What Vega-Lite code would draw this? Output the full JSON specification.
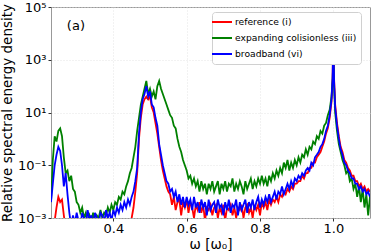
{
"$schema": "https://vega.github.io/schema/vega-lite/v6.json",
"width": 319, "height": 211,
"autosize": {"type": "none"},
"padding": {"left": 51, "top": 7, "right": 4, "bottom": 34},
"background": "white",
"config": {
  "font": "DejaVu Sans",
  "view": {"stroke": "#999999", "strokeWidth": 1},
  "axis": {"labelFont": "DejaVu Sans", "titleFont": "DejaVu Sans", "labelColor": "black", "titleColor": "black", "titleFontWeight": "normal", "gridColor": "#dddddd", "gridDash": [1, 2], "gridWidth": 0.8, "domain": false, "tickColor": "#333333", "tickSize": 3, "labelFontSize": 13, "titleFontSize": 13.5},
  "legend": {"orient": "none", "legendX": 161, "legendY": 5, "fillColor": "white", "strokeColor": "#d0d0d0", "cornerRadius": 3, "padding": 4, "labelFont": "DejaVu Sans", "labelFontSize": 9.2, "labelColor": "black", "symbolType": "M-2,0H2", "symbolSize": 100, "symbolStrokeWidth": 2, "labelOffset": 7, "rowPadding": 4, "title": null}
},
"datasets": {
"ref": [{"x":0.23,"y":2.5e-4},{"x":0.235,"y":4e-4},{"x":0.24,"y":7.9e-4},{"x":0.245,"y":2.5e-3},{"x":0.25,"y":6.3e-3},{"x":0.255,"y":4e-3},{"x":0.26,"y":5e-3},{"x":0.265,"y":1.26e-3},{"x":0.27,"y":4e-4},{"x":0.3,"y":3.16e-4},{"x":0.35,"y":3.16e-4},{"x":0.4,"y":3.16e-4},{"x":0.445,"y":3.16e-4},{"x":0.45,"y":1e-3},{"x":0.455,"y":2.5e-3},{"x":0.46,"y":1e-2},{"x":0.465,"y":5e-2},{"x":0.47,"y":1},{"x":0.475,"y":6.3},{"x":0.48,"y":20},{"x":0.485,"y":31.6},{"x":0.49,"y":40},{"x":0.495,"y":31.6},{"x":0.5,"y":40},{"x":0.505,"y":15.8},{"x":0.51,"y":10},{"x":0.515,"y":4},{"x":0.52,"y":1.58},{"x":0.525,"y":0.5},{"x":0.53,"y":0.158},{"x":0.535,"y":6.3e-2},{"x":0.54,"y":3.16e-2},{"x":0.545,"y":1.58e-2},{"x":0.55,"y":1e-2},{"x":0.555,"y":7.9e-3},{"x":0.56,"y":3.16e-3},{"x":0.565,"y":6.3e-3},{"x":0.57,"y":2e-3},{"x":0.575,"y":4e-3},{"x":0.58,"y":5e-3},{"x":0.585,"y":1.26e-3},{"x":0.59,"y":4e-3},{"x":0.595,"y":2.5e-3},{"x":0.6,"y":5e-3},{"x":0.605,"y":1.58e-3},{"x":0.61,"y":4e-3},{"x":0.615,"y":2.5e-3},{"x":0.62,"y":1e-3},{"x":0.625,"y":3.16e-3},{"x":0.63,"y":2e-3},{"x":0.635,"y":4e-3},{"x":0.64,"y":1.58e-3},{"x":0.645,"y":3.16e-3},{"x":0.65,"y":7.9e-4},{"x":0.655,"y":2.5e-3},{"x":0.66,"y":2e-3},{"x":0.665,"y":3.16e-3},{"x":0.67,"y":1.26e-3},{"x":0.675,"y":2.5e-3},{"x":0.68,"y":3.16e-3},{"x":0.685,"y":1e-3},{"x":0.69,"y":2.5e-3},{"x":0.695,"y":1.58e-3},{"x":0.7,"y":3.16e-3},{"x":0.705,"y":7.9e-4},{"x":0.71,"y":2.5e-3},{"x":0.715,"y":2e-3},{"x":0.72,"y":3.16e-3},{"x":0.725,"y":1.26e-3},{"x":0.73,"y":2.5e-3},{"x":0.735,"y":1e-3},{"x":0.74,"y":2.5e-3},{"x":0.745,"y":2e-3},{"x":0.75,"y":3.16e-3},{"x":0.755,"y":1e-3},{"x":0.76,"y":2.5e-3},{"x":0.765,"y":3.16e-3},{"x":0.77,"y":1.58e-3},{"x":0.775,"y":2.5e-3},{"x":0.78,"y":1e-3},{"x":0.785,"y":3.16e-3},{"x":0.79,"y":2e-3},{"x":0.795,"y":3.16e-3},{"x":0.8,"y":1.26e-3},{"x":0.805,"y":4e-3},{"x":0.81,"y":2.5e-3},{"x":0.815,"y":4e-3},{"x":0.82,"y":2e-3},{"x":0.825,"y":5e-3},{"x":0.83,"y":3.16e-3},{"x":0.835,"y":5e-3},{"x":0.84,"y":4e-3},{"x":0.845,"y":6.3e-3},{"x":0.85,"y":4e-3},{"x":0.855,"y":7.9e-3},{"x":0.86,"y":6.3e-3},{"x":0.865,"y":1e-2},{"x":0.87,"y":7.9e-3},{"x":0.875,"y":1.26e-2},{"x":0.88,"y":1e-2},{"x":0.885,"y":1.58e-2},{"x":0.89,"y":1.26e-2},{"x":0.895,"y":2e-2},{"x":0.9,"y":2e-2},{"x":0.905,"y":2.5e-2},{"x":0.91,"y":2.5e-2},{"x":0.915,"y":4e-2},{"x":0.92,"y":3.16e-2},{"x":0.925,"y":5e-2},{"x":0.93,"y":5e-2},{"x":0.935,"y":7.9e-2},{"x":0.94,"y":7.9e-2},{"x":0.945,"y":0.126},{"x":0.95,"y":0.126},{"x":0.955,"y":0.2},{"x":0.96,"y":0.25},{"x":0.965,"y":0.316},{"x":0.97,"y":0.5},{"x":0.975,"y":0.79},{"x":0.98,"y":1.58},{"x":0.985,"y":2.5},{"x":0.99,"y":6.3},{"x":0.995,"y":25},{"x":0.998,"y":200},{"x":1.0,"y":15800},{"x":1.002,"y":200},{"x":1.005,"y":20},{"x":1.01,"y":4},{"x":1.015,"y":1.26},{"x":1.02,"y":0.5},{"x":1.025,"y":0.316},{"x":1.03,"y":0.158},{"x":1.035,"y":0.126},{"x":1.04,"y":7.9e-2},{"x":1.045,"y":6.3e-2},{"x":1.05,"y":4e-2},{"x":1.055,"y":4e-2},{"x":1.06,"y":2.5e-2},{"x":1.065,"y":2.5e-2},{"x":1.07,"y":1.58e-2},{"x":1.075,"y":2e-2},{"x":1.08,"y":1.26e-2},{"x":1.085,"y":1.58e-2},{"x":1.09,"y":1e-2},{"x":1.095,"y":1.26e-2},{"x":1.1,"y":1e-2}],
"exp": [{"x":0.23,"y":4e-3},{"x":0.235,"y":0.158},{"x":0.24,"y":1.26},{"x":0.245,"y":0.79},{"x":0.25,"y":2},{"x":0.255,"y":2.5},{"x":0.26,"y":1.26},{"x":0.265,"y":0.2},{"x":0.27,"y":5e-2},{"x":0.275,"y":6.3e-2},{"x":0.28,"y":2.5e-2},{"x":0.285,"y":4e-2},{"x":0.29,"y":1.26e-2},{"x":0.295,"y":1e-2},{"x":0.3,"y":4e-3},{"x":0.305,"y":3.16e-3},{"x":0.31,"y":1.58e-3},{"x":0.315,"y":2.5e-3},{"x":0.32,"y":1e-3},{"x":0.325,"y":1.58e-3},{"x":0.33,"y":6.3e-4},{"x":0.335,"y":1.26e-3},{"x":0.34,"y":7.9e-4},{"x":0.345,"y":1.58e-3},{"x":0.35,"y":6.3e-4},{"x":0.355,"y":1.26e-3},{"x":0.36,"y":1e-3},{"x":0.365,"y":2e-3},{"x":0.37,"y":1e-3},{"x":0.375,"y":1.58e-3},{"x":0.38,"y":1.26e-3},{"x":0.385,"y":2.5e-3},{"x":0.39,"y":1.58e-3},{"x":0.395,"y":3.16e-3},{"x":0.4,"y":2e-3},{"x":0.405,"y":4e-3},{"x":0.41,"y":3.16e-3},{"x":0.415,"y":6.3e-3},{"x":0.42,"y":5e-3},{"x":0.425,"y":1e-2},{"x":0.43,"y":7.9e-3},{"x":0.435,"y":1.58e-2},{"x":0.44,"y":2.5e-2},{"x":0.445,"y":5e-2},{"x":0.45,"y":7.9e-2},{"x":0.455,"y":0.2},{"x":0.46,"y":0.5},{"x":0.465,"y":2},{"x":0.47,"y":6.3},{"x":0.475,"y":20},{"x":0.48,"y":40},{"x":0.485,"y":79},{"x":0.49,"y":158},{"x":0.495,"y":50},{"x":0.5,"y":79},{"x":0.505,"y":40},{"x":0.51,"y":63},{"x":0.515,"y":31.6},{"x":0.52,"y":100},{"x":0.525,"y":158},{"x":0.53,"y":79},{"x":0.535,"y":50},{"x":0.54,"y":31.6},{"x":0.545,"y":20},{"x":0.55,"y":12.6},{"x":0.555,"y":7.9},{"x":0.56,"y":6.3},{"x":0.565,"y":3.16},{"x":0.57,"y":2.5},{"x":0.575,"y":1},{"x":0.58,"y":0.5},{"x":0.585,"y":0.316},{"x":0.59,"y":0.158},{"x":0.595,"y":0.1},{"x":0.6,"y":6.3e-2},{"x":0.605,"y":3.16e-2},{"x":0.61,"y":4e-2},{"x":0.615,"y":2e-2},{"x":0.62,"y":3.16e-2},{"x":0.625,"y":1.58e-2},{"x":0.63,"y":2.5e-2},{"x":0.635,"y":1e-2},{"x":0.64,"y":2.5e-2},{"x":0.645,"y":1.26e-2},{"x":0.65,"y":2e-2},{"x":0.655,"y":7.9e-3},{"x":0.66,"y":2e-2},{"x":0.665,"y":1.26e-2},{"x":0.67,"y":2.5e-2},{"x":0.675,"y":1e-2},{"x":0.68,"y":1.58e-2},{"x":0.685,"y":2.5e-2},{"x":0.69,"y":7.9e-3},{"x":0.695,"y":2e-2},{"x":0.7,"y":1.26e-2},{"x":0.705,"y":2.5e-2},{"x":0.71,"y":1e-2},{"x":0.715,"y":2e-2},{"x":0.72,"y":1.58e-2},{"x":0.725,"y":3.16e-2},{"x":0.73,"y":1e-2},{"x":0.735,"y":2e-2},{"x":0.74,"y":1.26e-2},{"x":0.745,"y":2.5e-2},{"x":0.75,"y":1.58e-2},{"x":0.755,"y":7.9e-3},{"x":0.76,"y":2.5e-2},{"x":0.765,"y":1.26e-2},{"x":0.77,"y":2e-2},{"x":0.775,"y":3.16e-2},{"x":0.78,"y":1.26e-2},{"x":0.785,"y":2.5e-2},{"x":0.79,"y":1.58e-2},{"x":0.795,"y":3.16e-2},{"x":0.8,"y":2e-2},{"x":0.805,"y":4e-2},{"x":0.81,"y":2e-2},{"x":0.815,"y":3.16e-2},{"x":0.82,"y":1.58e-2},{"x":0.825,"y":4e-2},{"x":0.83,"y":2.5e-2},{"x":0.835,"y":5e-2},{"x":0.84,"y":3.16e-2},{"x":0.845,"y":6.3e-2},{"x":0.85,"y":4e-2},{"x":0.855,"y":7.9e-2},{"x":0.86,"y":5e-2},{"x":0.865,"y":0.126},{"x":0.87,"y":7.9e-2},{"x":0.875,"y":0.158},{"x":0.88,"y":6.3e-2},{"x":0.885,"y":0.126},{"x":0.89,"y":7.9e-2},{"x":0.895,"y":0.158},{"x":0.9,"y":0.1},{"x":0.905,"y":0.2},{"x":0.91,"y":0.126},{"x":0.915,"y":0.25},{"x":0.92,"y":0.2},{"x":0.925,"y":0.4},{"x":0.93,"y":0.25},{"x":0.935,"y":0.5},{"x":0.94,"y":0.4},{"x":0.945,"y":0.79},{"x":0.95,"y":0.63},{"x":0.955,"y":1.26},{"x":0.96,"y":1},{"x":0.965,"y":2},{"x":0.97,"y":1.58},{"x":0.975,"y":3.16},{"x":0.98,"y":4},{"x":0.985,"y":7.9},{"x":0.99,"y":12.6},{"x":0.995,"y":40},{"x":0.998,"y":158},{"x":1.0,"y":1000},{"x":1.002,"y":100},{"x":1.005,"y":10},{"x":1.01,"y":2},{"x":1.015,"y":0.63},{"x":1.02,"y":0.316},{"x":1.025,"y":0.158},{"x":1.03,"y":0.1},{"x":1.035,"y":5e-2},{"x":1.04,"y":6.3e-2},{"x":1.045,"y":2.5e-2},{"x":1.05,"y":3.16e-2},{"x":1.055,"y":1.26e-2},{"x":1.06,"y":2e-2},{"x":1.065,"y":6.3e-3},{"x":1.07,"y":1.58e-2},{"x":1.075,"y":4e-3},{"x":1.08,"y":1.26e-2},{"x":1.085,"y":2.5e-3},{"x":1.09,"y":7.9e-3},{"x":1.095,"y":1.26e-3},{"x":1.1,"y":6.3e-3}],
"bb": [{"x":0.23,"y":4e-3},{"x":0.235,"y":2e-2},{"x":0.24,"y":0.1},{"x":0.245,"y":0.25},{"x":0.25,"y":0.5},{"x":0.255,"y":0.35},{"x":0.26,"y":0.1},{"x":0.265,"y":1.58e-2},{"x":0.27,"y":5e-2},{"x":0.275,"y":7.9e-3},{"x":0.28,"y":1.58e-3},{"x":0.285,"y":5e-4},{"x":0.29,"y":1.26e-3},{"x":0.295,"y":6.3e-4},{"x":0.3,"y":1.58e-3},{"x":0.305,"y":7.9e-4},{"x":0.31,"y":5e-4},{"x":0.315,"y":1.58e-3},{"x":0.32,"y":1e-3},{"x":0.325,"y":6.3e-4},{"x":0.33,"y":2e-3},{"x":0.335,"y":7.9e-4},{"x":0.34,"y":1.26e-3},{"x":0.345,"y":5e-4},{"x":0.35,"y":1.58e-3},{"x":0.355,"y":1e-3},{"x":0.36,"y":6.3e-4},{"x":0.365,"y":1.58e-3},{"x":0.37,"y":1.26e-3},{"x":0.375,"y":6.3e-4},{"x":0.38,"y":2e-3},{"x":0.385,"y":1e-3},{"x":0.39,"y":1.58e-3},{"x":0.395,"y":7.9e-4},{"x":0.4,"y":2e-3},{"x":0.405,"y":1.26e-3},{"x":0.41,"y":2.5e-3},{"x":0.415,"y":1.58e-3},{"x":0.42,"y":3.16e-3},{"x":0.425,"y":2e-3},{"x":0.43,"y":4e-3},{"x":0.435,"y":2.5e-3},{"x":0.44,"y":5e-3},{"x":0.445,"y":3.16e-3},{"x":0.45,"y":6.3e-3},{"x":0.455,"y":1e-2},{"x":0.46,"y":2.5e-2},{"x":0.465,"y":7.9e-2},{"x":0.47,"y":1.58},{"x":0.475,"y":10},{"x":0.48,"y":31.6},{"x":0.485,"y":50},{"x":0.49,"y":100},{"x":0.495,"y":40},{"x":0.5,"y":63},{"x":0.505,"y":20},{"x":0.51,"y":15.8},{"x":0.515,"y":6.3},{"x":0.52,"y":3.16},{"x":0.525,"y":0.63},{"x":0.53,"y":0.25},{"x":0.535,"y":0.1},{"x":0.54,"y":5e-2},{"x":0.545,"y":2.5e-2},{"x":0.55,"y":2e-2},{"x":0.555,"y":1e-2},{"x":0.56,"y":1.26e-2},{"x":0.565,"y":6.3e-3},{"x":0.57,"y":1e-2},{"x":0.575,"y":4e-3},{"x":0.58,"y":7.9e-3},{"x":0.585,"y":3.16e-3},{"x":0.59,"y":6.3e-3},{"x":0.595,"y":2.5e-3},{"x":0.6,"y":6.3e-3},{"x":0.605,"y":3.16e-3},{"x":0.61,"y":5e-3},{"x":0.615,"y":2e-3},{"x":0.62,"y":6.3e-3},{"x":0.625,"y":2.5e-3},{"x":0.63,"y":4e-3},{"x":0.635,"y":1.58e-3},{"x":0.64,"y":5e-3},{"x":0.645,"y":2.5e-3},{"x":0.65,"y":4e-3},{"x":0.655,"y":1.26e-3},{"x":0.66,"y":5e-3},{"x":0.665,"y":2e-3},{"x":0.67,"y":3.16e-3},{"x":0.675,"y":4e-3},{"x":0.68,"y":1.58e-3},{"x":0.685,"y":5e-3},{"x":0.69,"y":2.5e-3},{"x":0.695,"y":3.16e-3},{"x":0.7,"y":1.26e-3},{"x":0.705,"y":4e-3},{"x":0.71,"y":2e-3},{"x":0.715,"y":5e-3},{"x":0.72,"y":1.58e-3},{"x":0.725,"y":3.16e-3},{"x":0.73,"y":2.5e-3},{"x":0.735,"y":5e-3},{"x":0.74,"y":1.26e-3},{"x":0.745,"y":4e-3},{"x":0.75,"y":2e-3},{"x":0.755,"y":3.16e-3},{"x":0.76,"y":5e-3},{"x":0.765,"y":1.58e-3},{"x":0.77,"y":4e-3},{"x":0.775,"y":2.5e-3},{"x":0.78,"y":5e-3},{"x":0.785,"y":2e-3},{"x":0.79,"y":4e-3},{"x":0.795,"y":6.3e-3},{"x":0.8,"y":2.5e-3},{"x":0.805,"y":5e-3},{"x":0.81,"y":3.16e-3},{"x":0.815,"y":6.3e-3},{"x":0.82,"y":4e-3},{"x":0.825,"y":7.9e-3},{"x":0.83,"y":4e-3},{"x":0.835,"y":6.3e-3},{"x":0.84,"y":1e-2},{"x":0.845,"y":5e-3},{"x":0.85,"y":1e-2},{"x":0.855,"y":7.9e-3},{"x":0.86,"y":1.58e-2},{"x":0.865,"y":7.9e-3},{"x":0.87,"y":1.26e-2},{"x":0.875,"y":2e-2},{"x":0.88,"y":1.26e-2},{"x":0.885,"y":2.5e-2},{"x":0.89,"y":1.58e-2},{"x":0.895,"y":3.16e-2},{"x":0.9,"y":2.5e-2},{"x":0.905,"y":4e-2},{"x":0.91,"y":3.16e-2},{"x":0.915,"y":5e-2},{"x":0.92,"y":4e-2},{"x":0.925,"y":6.3e-2},{"x":0.93,"y":7.9e-2},{"x":0.935,"y":6.3e-2},{"x":0.94,"y":0.126},{"x":0.945,"y":0.1},{"x":0.95,"y":0.2},{"x":0.955,"y":0.25},{"x":0.96,"y":0.316},{"x":0.965,"y":0.5},{"x":0.97,"y":0.63},{"x":0.975,"y":1},{"x":0.98,"y":2},{"x":0.985,"y":3.16},{"x":0.99,"y":7.9},{"x":0.995,"y":31.6},{"x":0.998,"y":200},{"x":1.0,"y":10000},{"x":1.002,"y":158},{"x":1.005,"y":15.8},{"x":1.01,"y":3.16},{"x":1.015,"y":1},{"x":1.02,"y":0.4},{"x":1.025,"y":0.25},{"x":1.03,"y":0.126},{"x":1.035,"y":0.1},{"x":1.04,"y":6.3e-2},{"x":1.045,"y":5e-2},{"x":1.05,"y":3.16e-2},{"x":1.055,"y":3.16e-2},{"x":1.06,"y":2e-2},{"x":1.065,"y":2e-2},{"x":1.07,"y":1.26e-2},{"x":1.075,"y":1.58e-2},{"x":1.08,"y":1e-2},{"x":1.085,"y":1.26e-2},{"x":1.09,"y":7.9e-3},{"x":1.095,"y":1e-2},{"x":1.1,"y":6.3e-3}]
},
"encoding": {
  "x": {"field": "x", "type": "quantitative", "scale": {"domain": [0.23, 1.1], "nice": false, "zero": false}, "axis": {"values": [0.4, 0.6, 0.8, 1.0], "format": ".1f", "title": "ω [ω₀]", "labelPadding": 1, "titlePadding": 2}},
  "y": {"field": "y", "type": "quantitative", "scale": {"type": "log", "domain": [0.001, 100000], "nice": false}, "axis": {"values": [0.001, 0.1, 10, 1000, 100000], "labelExpr": "datum.value < 0.01 ? '10⁻³' : datum.value < 1 ? '10⁻¹' : datum.value < 100 ? '10¹' : datum.value < 10000 ? '10³' : '10⁵'", "title": "Relative spectral energy density", "labelPadding": 2, "titlePadding": 3}}
},
"layer": [
  {"data": {"name": "ref"}, "mark": {"type": "line", "strokeWidth": 1.8, "clip": true},
   "encoding": {"color": {"datum": "reference (i)", "type": "nominal", "scale": {"domain": ["reference (i)", "expanding colisionless (iii)", "broadband (vi)"], "range": ["#ff0000", "#008000", "#0000ff"]}}}},
  {"data": {"name": "exp"}, "mark": {"type": "line", "strokeWidth": 1.8, "clip": true},
   "encoding": {"color": {"datum": "expanding colisionless (iii)", "type": "nominal"}}},
  {"data": {"name": "bb"}, "mark": {"type": "line", "strokeWidth": 1.8, "clip": true},
   "encoding": {"color": {"datum": "broadband (vi)", "type": "nominal"}}},
  {"data": {"values": [{"x": 0.298, "y": 19000, "label": "(a)"}]}, "mark": {"type": "text", "fontSize": 13, "font": "DejaVu Sans", "color": "black"},
   "encoding": {"text": {"field": "label", "type": "nominal"}}}
]
}
